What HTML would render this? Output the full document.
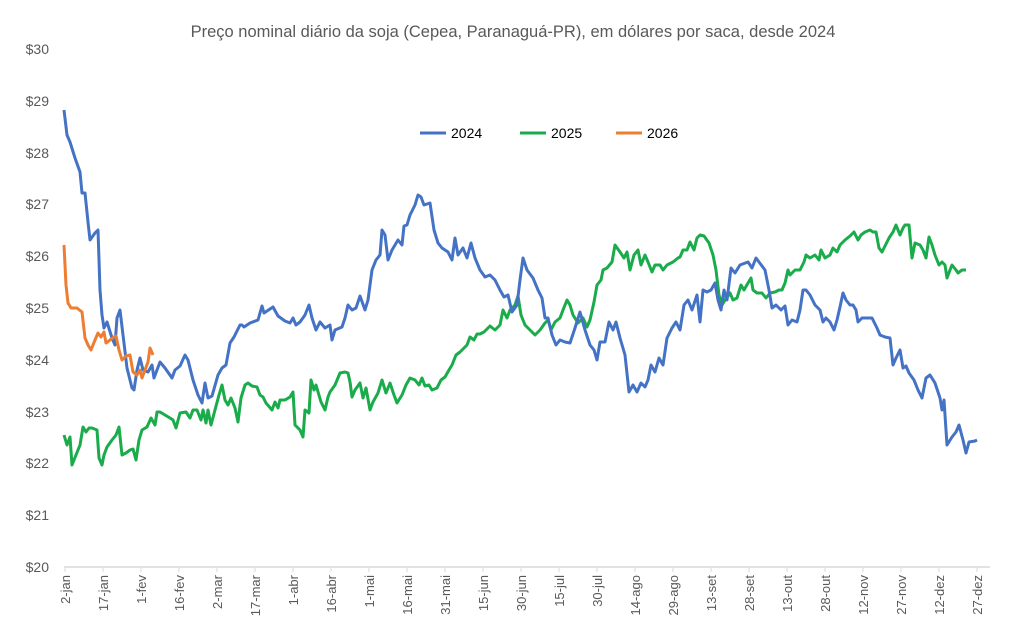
<!DOCTYPE html>
<html><head><meta charset="utf-8"><style>
html,body{margin:0;padding:0;background:#fff;}
svg{display:block;font-family:"Liberation Sans",sans-serif;}
</style></head><body>
<svg width="1030" height="633" viewBox="0 0 1030 633" xmlns="http://www.w3.org/2000/svg">
<rect width="1030" height="633" fill="#fff"/>
<text x="513" y="37" text-anchor="middle" font-size="16.5" fill="#595959">Preço nominal diário da soja (Cepea, Paranaguá-PR), em dólares por saca, desde 2024</text>
<g font-size="14" fill="#595959" text-anchor="end">
<text x="49" y="572">$20</text><text x="49" y="520">$21</text><text x="49" y="468">$22</text><text x="49" y="417">$23</text><text x="49" y="365">$24</text><text x="49" y="313">$25</text><text x="49" y="261">$26</text><text x="49" y="209">$27</text><text x="49" y="158">$28</text><text x="49" y="106">$29</text><text x="49" y="54">$30</text>
</g>
<line x1="64" y1="567" x2="990" y2="567" stroke="#d9d9d9" stroke-width="1.5"/>
<g stroke="#d9d9d9" stroke-width="1">
<line x1="65" y1="567" x2="65" y2="572"/><line x1="103" y1="567" x2="103" y2="572"/><line x1="141" y1="567" x2="141" y2="572"/><line x1="179" y1="567" x2="179" y2="572"/><line x1="217" y1="567" x2="217" y2="572"/><line x1="255" y1="567" x2="255" y2="572"/><line x1="293" y1="567" x2="293" y2="572"/><line x1="331" y1="567" x2="331" y2="572"/><line x1="369" y1="567" x2="369" y2="572"/><line x1="407" y1="567" x2="407" y2="572"/><line x1="445" y1="567" x2="445" y2="572"/><line x1="483" y1="567" x2="483" y2="572"/><line x1="521" y1="567" x2="521" y2="572"/><line x1="559" y1="567" x2="559" y2="572"/><line x1="597" y1="567" x2="597" y2="572"/><line x1="635" y1="567" x2="635" y2="572"/><line x1="673" y1="567" x2="673" y2="572"/><line x1="711" y1="567" x2="711" y2="572"/><line x1="749" y1="567" x2="749" y2="572"/><line x1="787" y1="567" x2="787" y2="572"/><line x1="825" y1="567" x2="825" y2="572"/><line x1="863" y1="567" x2="863" y2="572"/><line x1="901" y1="567" x2="901" y2="572"/><line x1="939" y1="567" x2="939" y2="572"/><line x1="977" y1="567" x2="977" y2="572"/>
</g>
<g font-size="13" fill="#595959" text-anchor="end">
<text transform="translate(70,575) rotate(-90)">2-jan</text>
<text transform="translate(108,575) rotate(-90)">17-jan</text>
<text transform="translate(146,575) rotate(-90)">1-fev</text>
<text transform="translate(184,575) rotate(-90)">16-fev</text>
<text transform="translate(222,575) rotate(-90)">2-mar</text>
<text transform="translate(260,575) rotate(-90)">17-mar</text>
<text transform="translate(298,575) rotate(-90)">1-abr</text>
<text transform="translate(336,575) rotate(-90)">16-abr</text>
<text transform="translate(374,575) rotate(-90)">1-mai</text>
<text transform="translate(412,575) rotate(-90)">16-mai</text>
<text transform="translate(450,575) rotate(-90)">31-mai</text>
<text transform="translate(488,575) rotate(-90)">15-jun</text>
<text transform="translate(526,575) rotate(-90)">30-jun</text>
<text transform="translate(564,575) rotate(-90)">15-jul</text>
<text transform="translate(602,575) rotate(-90)">30-jul</text>
<text transform="translate(640,575) rotate(-90)">14-ago</text>
<text transform="translate(678,575) rotate(-90)">29-ago</text>
<text transform="translate(716,575) rotate(-90)">13-set</text>
<text transform="translate(754,575) rotate(-90)">28-set</text>
<text transform="translate(792,575) rotate(-90)">13-out</text>
<text transform="translate(830,575) rotate(-90)">28-out</text>
<text transform="translate(868,575) rotate(-90)">12-nov</text>
<text transform="translate(906,575) rotate(-90)">27-nov</text>
<text transform="translate(944,575) rotate(-90)">12-dez</text>
<text transform="translate(982,575) rotate(-90)">27-dez</text>
</g>
<g font-size="14" fill="#000">
<line x1="420" y1="133" x2="446" y2="133" stroke="#4472C4" stroke-width="3"/><text x="451" y="138">2024</text>
<line x1="520" y1="133" x2="546" y2="133" stroke="#1aab4a" stroke-width="3"/><text x="551" y="138">2025</text>
<line x1="616" y1="133" x2="642" y2="133" stroke="#ED7D31" stroke-width="3"/><text x="647" y="138">2026</text>
</g>
<g fill="none" stroke-width="3" stroke-linejoin="round">
<polyline stroke="#1aab4a" points="64,435 67,445 70,437 72,465 76,455 80,445 83,427 86,432 89,428 92,428 97,430 99,458 102,465 104,455 107,447 112,440 116,435 119,427 122,455 126,453 130,450 133,449 136,460 139,440 142,430 147,427 151,418 155,425 157,412 160,412 165,415 170,418 173,420 176,428 180,413 186,412 190,418 193,410 197,410 201,420 203,410 206,423 208,410 211,425 215,410 219,395 222,385 225,400 228,405 231,398 235,408 238,422 241,398 245,385 248,383 252,386 257,387 260,395 263,397 266,403 272,410 275,402 278,408 280,400 285,400 290,397 293,392 295,425 300,430 303,437 305,410 309,413 311,380 314,390 316,385 321,402 325,410 328,397 330,392 335,385 340,373 345,372 348,373 350,382 352,397 355,390 360,383 363,398 366,388 370,410 373,402 378,393 382,380 386,393 390,383 394,395 397,403 402,395 406,385 410,378 415,380 419,385 422,378 425,386 429,385 432,390 437,388 441,380 445,377 449,370 452,365 456,355 460,352 464,348 467,345 470,337 474,340 477,334 480,334 484,332 490,326 495,330 500,325 503,310 507,318 510,310 515,305 518,296 521,315 525,325 530,330 535,335 540,330 545,323 548,320 551,330 555,322 560,318 563,310 567,300 570,305 573,315 578,323 583,318 587,327 590,320 594,302 597,285 601,280 603,270 607,268 612,262 615,245 620,252 624,258 627,252 630,270 634,255 638,250 641,265 645,255 648,262 652,272 655,265 660,265 663,270 667,265 673,262 678,258 680,257 683,250 687,250 690,242 694,250 697,238 700,235 704,236 709,243 713,255 716,270 719,295 722,305 725,300 730,293 733,300 737,298 741,285 744,290 748,283 751,278 753,290 757,293 762,293 766,298 770,293 775,292 779,290 782,290 785,283 788,270 790,275 795,270 800,270 804,262 806,255 810,258 815,255 819,260 821,250 825,258 830,255 833,248 837,252 840,245 845,240 850,236 854,232 858,240 861,235 865,232 870,230 873,232 876,232 879,248 882,252 885,246 889,238 893,232 896,225 900,235 903,228 905,225 909,225 912,258 915,243 920,245 923,250 926,258 929,237 932,245 935,255 939,265 942,262 945,265 947,278 950,270 952,265 956,270 958,273 962,270 966,270"/>
<polyline stroke="#4472C4" points="64,110 67,135 70,142 75,158 80,172 82,193 85,193 88,222 90,240 95,233 98,230 100,290 102,315 104,328 107,322 112,338 115,345 117,318 120,310 123,335 127,368 132,388 134,390 137,370 140,358 143,370 148,372 152,365 154,378 157,370 160,362 165,368 172,378 175,370 180,366 185,355 188,360 193,380 198,395 202,403 205,383 208,398 212,396 218,375 222,368 226,365 230,343 234,337 240,325 242,325 244,327 250,323 258,320 262,306 264,313 273,307 278,316 285,321 290,323 293,318 296,325 300,322 305,315 309,305 312,318 316,330 320,322 325,328 330,325 332,340 335,330 342,327 345,318 348,305 352,310 356,308 360,296 365,310 368,300 372,270 376,260 380,255 382,230 385,235 388,260 392,250 398,240 402,245 404,226 407,225 410,215 415,205 418,195 421,197 424,205 430,203 434,230 438,243 442,248 448,252 452,260 455,238 458,255 463,248 467,258 471,243 475,258 480,270 485,277 490,275 495,280 500,290 504,297 508,295 512,312 517,305 520,280 523,258 527,270 533,278 538,290 542,298 545,318 548,318 552,335 556,345 560,340 565,342 570,343 575,328 580,312 585,330 590,345 594,350 597,360 600,342 605,342 609,322 613,330 616,322 620,338 625,355 629,392 633,385 637,392 641,383 645,387 648,380 651,365 655,372 659,358 663,365 667,338 672,328 676,322 680,330 684,305 688,300 692,310 697,295 700,322 703,290 707,292 711,290 715,283 718,300 721,310 724,290 727,300 731,268 735,273 740,265 748,262 752,268 756,258 762,266 765,270 769,290 772,308 776,305 781,310 785,306 788,325 792,320 797,322 800,310 803,290 806,290 810,295 815,305 820,310 823,322 826,318 830,322 834,330 837,320 840,307 843,293 846,300 850,305 853,305 856,310 858,322 862,318 867,318 872,318 877,328 880,335 885,337 890,338 893,365 896,358 900,350 903,368 906,366 909,373 914,380 918,390 922,398 926,378 930,375 935,383 940,398 942,410 944,400 947,445 952,437 956,432 959,425 963,440 966,453 969,442 975,441 977,440"/>
<polyline stroke="#ED7D31" points="64,245 66,285 68,303 71,308 77,308 82,312 85,338 88,345 91,350 95,340 98,333 101,337 104,332 106,343 110,340 114,337 116,336 119,350 122,360 126,356 130,355 133,372 137,375 140,370 142,378 145,370 148,362 150,348 153,355"/>
</g>
</svg>
</body></html>
